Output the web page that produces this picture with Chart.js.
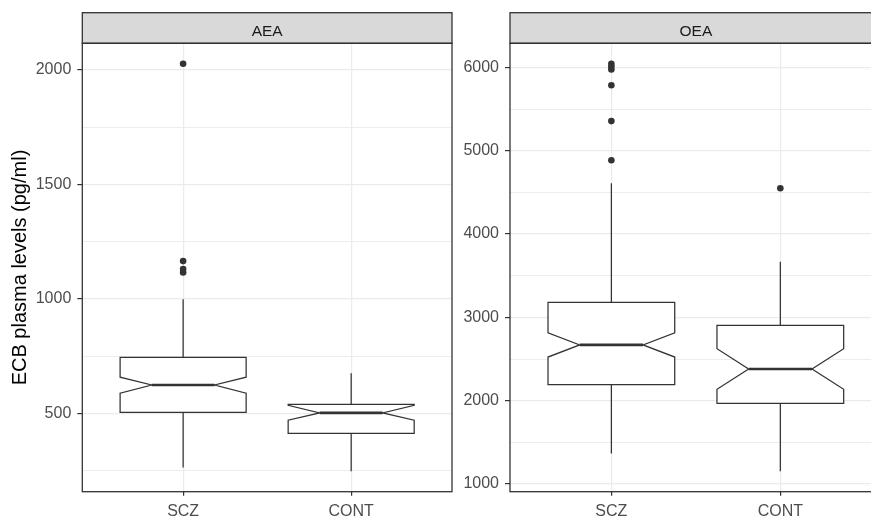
<!DOCTYPE html>
<html>
<head>
<meta charset="utf-8">
<script src="https://cdn.jsdelivr.net/npm/chart.js@4.4.1/dist/chart.umd.min.js"></script>
<style>
html, body { margin: 0; padding: 0; background: #fff; overflow: hidden; width: 871px; height: 517px; }
canvas { position: absolute; top: 0; }
#aea { left: 0; }
#oea { left: 456px; }
</style>
</head>
<body>
<canvas id="aea" width="456" height="517"></canvas>
<canvas id="oea" width="434" height="517"></canvas>
<script>
const categories = ['SCZ', 'CONT'];
const panels = ['AEA', 'OEA'];
const yTitle = 'ECB plasma levels (pg/ml)';

// AEA boxes (SCZ, CONT)
const aeaWhiskerLow = [264, 247];
const aeaQ1 = [504, 413];
const aeaNotchLow = [588, 470];
const aeaMedian = [624, 502];
const aeaNotchHigh = [658, 535];
const aeaQ3 = [745, 539];
const aeaWhiskerHigh = [998, 675];
const aeaOutliers = [[2027, 1165, 1130, 1115], []];
const aeaMajorTicks = [500, 1000, 1500, 2000];
const aeaMinorTicks = [250, 750, 1250, 1750];

// OEA boxes (SCZ, CONT)
const oeaWhiskerLow = [1368, 1153];
const oeaQ1 = [2192, 1968];
const oeaNotchLow = [2524, 2137];
const oeaMedian = [2670, 2381];
const oeaNotchHigh = [2816, 2624];
const oeaQ3 = [3180, 2904];
const oeaWhiskerHigh = [4608, 3667];
const oeaOutliers = [[6044, 6010, 5975, 5785, 5355, 4885], [4550]];
const oeaMajorTicks = [1000, 2000, 3000, 4000, 5000, 6000];
const oeaMinorTicks = [1500, 2500, 3500, 4500, 5500];

const boxWidth = 0.75;
const notchWidth = 0.5;
const ink = '#333333';
const gridColor = '#EBEBEB';
const tickText = '#4D4D4D';

Chart.defaults.font.family = '"Liberation Sans", Arial, sans-serif';
Chart.defaults.animation = false;

const boxPlugin = {
    id: 'boxes',
    beforeDatasetsDraw(chart, args, opts) {
        const { ctx, scales: { x, y } } = chart;
        const s = opts.stats;
        ctx.save();
        ctx.strokeStyle = ink;
        ctx.lineJoin = 'miter';
        categories.forEach((c, i) => {
            const cx = x.getPixelForValue(i + 1);
            const hw = x.getPixelForValue(i + 1 + boxWidth / 2) - cx;
            const nw = hw * notchWidth;
            const py = v => y.getPixelForValue(v);

            // whiskers
            ctx.lineWidth = 1.25;
            ctx.beginPath();
            ctx.moveTo(cx, py(s.q3[i]));
            ctx.lineTo(cx, py(s.whiskerHigh[i]));
            ctx.moveTo(cx, py(s.q1[i]));
            ctx.lineTo(cx, py(s.whiskerLow[i]));
            ctx.stroke();

            // notched box
            ctx.beginPath();
            ctx.moveTo(cx - hw, py(s.q3[i]));
            ctx.lineTo(cx - hw, py(s.notchHigh[i]));
            ctx.lineTo(cx - nw, py(s.median[i]));
            ctx.lineTo(cx - hw, py(s.notchLow[i]));
            ctx.lineTo(cx - hw, py(s.q1[i]));
            ctx.lineTo(cx + hw, py(s.q1[i]));
            ctx.lineTo(cx + hw, py(s.notchLow[i]));
            ctx.lineTo(cx + nw, py(s.median[i]));
            ctx.lineTo(cx + hw, py(s.notchHigh[i]));
            ctx.lineTo(cx + hw, py(s.q3[i]));
            ctx.closePath();
            ctx.fillStyle = '#ffffff';
            ctx.fill();
            ctx.stroke();

            // median
            ctx.lineWidth = 2.6;
            ctx.beginPath();
            ctx.moveTo(cx - nw, py(s.median[i]));
            ctx.lineTo(cx + nw, py(s.median[i]));
            ctx.stroke();
        });
        ctx.restore();
    },
    afterDraw(chart, args, opts) {
        const { ctx, chartArea: a } = chart;
        ctx.save();
        // strip
        ctx.fillStyle = '#D9D9D9';
        ctx.fillRect(a.left, 12.7, a.right - a.left, a.top - 12.7);
        ctx.strokeStyle = ink;
        ctx.lineWidth = 1.3;
        ctx.strokeRect(a.left, 12.7, a.right - a.left, a.top - 12.7);
        ctx.fillStyle = '#1A1A1A';
        ctx.font = '15.5px "Liberation Sans", Arial, sans-serif';
        ctx.textAlign = 'center';
        ctx.textBaseline = 'alphabetic';
        ctx.fillText(opts.label, (a.left + a.right) / 2, 36.3);
        // panel border
        ctx.strokeRect(a.left, a.top, a.right - a.left, a.bottom - a.top);
        ctx.restore();
    }
};

function expandRange(values) {
    const lo = Math.min(...values), hi = Math.max(...values);
    const pad = (hi - lo) * 0.05;
    return [lo - pad, hi + pad];
}

function makePanel(id, label, stats, outliers, majorTicks, minorTicks, yWidth, padRight, showTitle) {
    const allValues = [].concat(stats.whiskerLow, stats.whiskerHigh, ...outliers);
    const [yMin, yMax] = expandRange(allValues);
    const allTicks = [...majorTicks, ...minorTicks].sort((a, b) => a - b);
    const points = [];
    outliers.forEach((list, i) => list.forEach(v => points.push({ x: i + 1, y: v })));

    return new Chart(document.getElementById(id), {
        type: 'scatter',
        data: {
            datasets: [{
                data: points,
                pointRadius: 3.3,
                pointBackgroundColor: ink,
                pointBorderWidth: 0
            }]
        },
        plugins: [boxPlugin],
        options: {
            responsive: false,
            layout: { padding: { top: 43.3, right: padRight, left: 0, bottom: 0 } },
            plugins: {
                legend: { display: false },
                tooltip: { enabled: false },
                boxes: { stats, label }
            },
            scales: {
                x: {
                    type: 'linear',
                    min: 1 - 0.6,
                    max: categories.length + 0.6,
                    afterBuildTicks(scale) { scale.ticks = categories.map((c, i) => ({ value: i + 1 })); },
                    afterFit(scale) { scale.height = 25.3; },
                    ticks: {
                        callback: v => categories[v - 1],
                        color: tickText,
                        font: { size: 16 },
                        padding: 6,
                        autoSkip: false,
                        maxRotation: 0
                    },
                    grid: { color: gridColor, lineWidth: 1.2, tickColor: ink, tickLength: 4, tickWidth: 1.2 },
                    border: { display: false }
                },
                y: {
                    type: 'linear',
                    min: yMin,
                    max: yMax,
                    afterBuildTicks(scale) { scale.ticks = allTicks.map(v => ({ value: v })); },
                    afterFit(scale) { scale.width = yWidth; },
                    ticks: {
                        callback: v => majorTicks.includes(v) ? String(v) : '',
                        color: tickText,
                        font: { size: 16 },
                        padding: 6,
                        autoSkip: false
                    },
                    grid: {
                        color: gridColor,
                        lineWidth: c => majorTicks.includes(c.tick && c.tick.value) ? 1.2 : 0.9,
                        tickColor: c => majorTicks.includes(c.tick && c.tick.value) ? ink : 'rgba(0,0,0,0)',
                        tickLength: 5,
                        tickWidth: 1.2
                    },
                    border: { display: false },
                    title: {
                        display: showTitle,
                        text: yTitle,
                        color: '#000000',
                        font: { size: 20 },
                        padding: { top: 8.5, bottom: 0 }
                    }
                }
            }
        }
    });
}

makePanel('aea', panels[0], {
    whiskerLow: aeaWhiskerLow, q1: aeaQ1, notchLow: aeaNotchLow, median: aeaMedian,
    notchHigh: aeaNotchHigh, q3: aeaQ3, whiskerHigh: aeaWhiskerHigh
}, aeaOutliers, aeaMajorTicks, aeaMinorTicks, 82.3, 2, true);

makePanel('oea', panels[1], {
    whiskerLow: oeaWhiskerLow, q1: oeaQ1, notchLow: oeaNotchLow, median: oeaMedian,
    notchHigh: oeaNotchHigh, q3: oeaQ3, whiskerHigh: oeaWhiskerHigh
}, oeaOutliers, oeaMajorTicks, oeaMinorTicks, 54, 8.3, false);
</script>
</body>
</html>
